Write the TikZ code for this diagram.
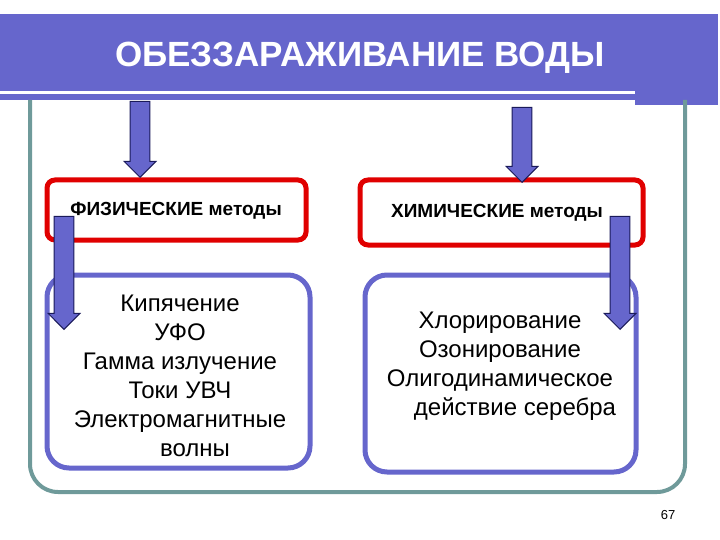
\documentclass[tikz,border=0pt]{standalone}
\usepackage{fontspec}
\setmainfont{Liberation Sans}
\usetikzlibrary{shapes.arrows, positioning}
\definecolor{bannerBlue}{HTML}{6666CC}
\definecolor{frameGray}{HTML}{6F9A9A}
\definecolor{boxRed}{HTML}{E00000}
\definecolor{arrowEdge}{HTML}{1A1A5A}
\tikzset{
    % Boxes
    methodBox/.style={draw=boxRed, line width=5pt, rounded corners=8pt},
    listBox/.style={draw=bannerBlue, line width=5pt, rounded corners=22pt},
    methodLabel/.style={font=\bfseries\fontsize{19}{22}\selectfont},
    listText/.style={align=center, font=\fontsize{24}{29}\selectfont},
    % Block arrows
    downArrow/.style={single arrow, shape border rotate=270, fill=bannerBlue,
        draw=arrowEdge, line width=1pt, inner sep=9pt, minimum width=32pt,
        single arrow head extend=6pt, anchor=tip}
}
\begin{document}
\begin{tikzpicture}[x=1pt, y=-1pt]
    \useasboundingbox (0,0) rectangle (720,540);
    % Banner
    \fill[bannerBlue] (0,14) rectangle (635,100);
    \fill[bannerBlue] (635,14) rectangle (718,105);
    \draw[white, line width=3pt] (0,93) -- (635,93);
    \node[text=white, font=\bfseries\fontsize{35}{40}\selectfont] (title) at (360,58) {ОБЕЗЗАРАЖИВАНИЕ ВОДЫ};

    % Outer frame
    \draw[frameGray, line width=4pt, rounded corners=28pt] (30,100) -- (30,492) -- (685,492) -- (685,100);

    % Method boxes
    \draw[methodBox] (47,180) rectangle (306,240);
    \draw[methodBox] (360,180) rectangle (643,245);
    \node[methodLabel] (phys) at (176,211) {ФИЗИЧЕСКИЕ методы};
    \node[methodLabel] (chem) at (497,213) {ХИМИЧЕСКИЕ методы};

    % List boxes
    \draw[listBox] (47,275) rectangle (310,468);
    \draw[listBox] (365,275) rectangle (636,472);
    \node[listText] (physList) at (180,376) {Кипячение\\УФО\\Гамма излучение\\Токи УВЧ\\Электромагнитные\\\hspace*{60pt}волны\hspace*{30pt}};
    \node[listText] (chemList) at (500,366) {Хлорирование\\Озонирование\\Олигодинамическое\\\hspace*{30pt}действие серебра};

    % Arrows
    \node[downArrow, minimum height=76pt] (arrA) at (140,178) {};
    \node[downArrow, minimum height=75pt] (arrB) at (522,183) {};
    \node[downArrow, minimum height=113pt] (arrC) at (64,330) {};
    \node[downArrow, minimum height=113pt] (arrD) at (620,330) {};

    \node[font=\fontsize{13}{15}\selectfont] (page) at (668,515) {67};
\end{tikzpicture}
\end{document}
